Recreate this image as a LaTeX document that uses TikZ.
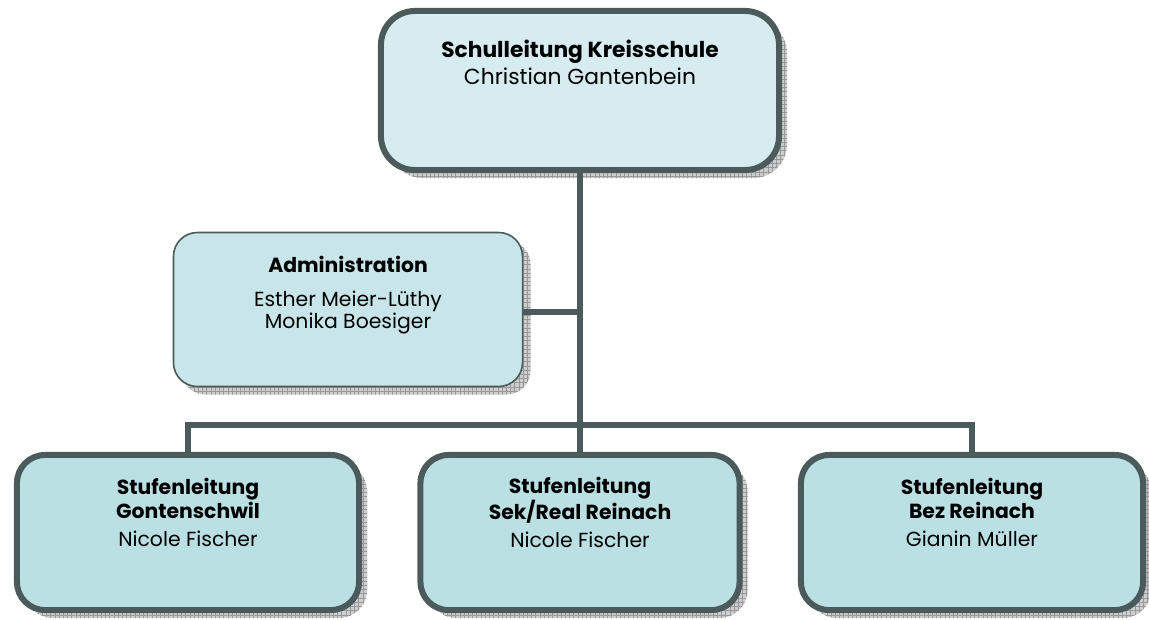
\documentclass[tikz,border=0pt]{standalone}
\usepackage{fontspec}
\setmainfont{Poppins}
\usetikzlibrary{positioning,shadows,patterns}

\definecolor{linegray}{RGB}{75,90,90}
\definecolor{topfill}{RGB}{215,236,240}
\definecolor{adminfill}{RGB}{200,230,233}
\definecolor{unitfill}{RGB}{186,224,228}
\definecolor{shadowgray}{RGB}{205,205,205}

\begin{document}
\begin{tikzpicture}[x=0.025cm, y=-0.025cm]

        % grey shadow with the fine grid on it
        \tikzset{
            gridshadow/.style={
                drop shadow={shadow xshift=0.2cm, shadow yshift=-0.2cm,
                    opacity=1, fill=shadowgray},
                drop shadow={shadow xshift=0.2cm, shadow yshift=-0.2cm,
                    opacity=1, pattern=grid, pattern color=gray!80}},
            orgbox/.style={rectangle, draw=linegray, line width=0.15cm,
                align=center, gridshadow,
                font=\fontsize{14.5}{15.6}\selectfont},
            headbox/.style={orgbox, fill=topfill, rounded corners=0.85cm,
                minimum width=9.95cm, minimum height=3.975cm,
                font=\fontsize{15.5}{19}\selectfont, text depth=1.4cm},
            adminbox/.style={orgbox, fill=adminfill, line width=0.04cm,
                rounded corners=0.6cm,
                minimum width=8.725cm, minimum height=3.85cm, text depth=0.85cm},
            unitbox/.style={orgbox, fill=unitfill, rounded corners=0.7cm,
                minimum height=3.875cm, text depth=1.0cm},
            link/.style={draw=linegray, line width=0.15cm}
        }

        \useasboundingbox (0,0) rectangle (1149,619);

        \node[headbox] (SL) at (580,90.5)
        {\textbf{Schulleitung Kreisschule}\\Christian Gantenbein};
        \node[adminbox] (AD) at (348,309.5)
        {\textbf{Administration}\\[9pt]Esther Meier-Lüthy\\Monika Boesiger};

        \node[unitbox, minimum width=8.55cm] (GO) at (188,532.5)
        {\textbf{Stufenleitung}\\\textbf{Gontenschwil}\\[4.5pt]Nicole Fischer};
        \node[unitbox, minimum width=7.975cm] (SR) at (580,532.5)
        {\textbf{Stufenleitung}\\\textbf{Sek/Real Reinach}\\[4.5pt]Nicole Fischer};
        \node[unitbox, minimum width=8.55cm] (BZ) at (972,532.5)
        {\textbf{Stufenleitung}\\\textbf{Bez Reinach}\\[4.5pt]Gianin Müller};

        \coordinate (bus) at (580,425);
        \coordinate (admin joint) at (580,312);

        \begin{scope}[link]
            \draw (SL.south) -- (SR.north);
            \draw (AD.east |- admin joint) -- (admin joint);
            \draw (GO.north) |- (bus) -| (BZ.north);
        \end{scope}

\end{tikzpicture}
\end{document}
